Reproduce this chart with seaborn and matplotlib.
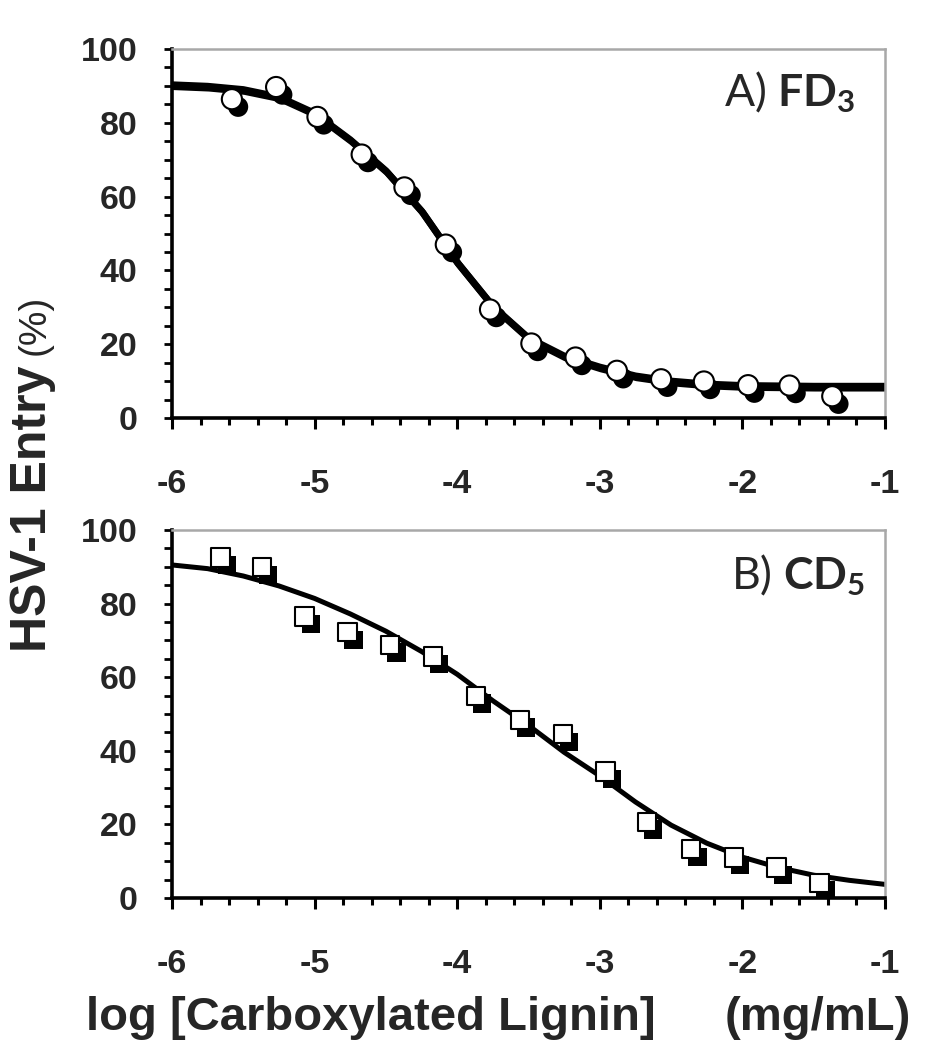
import matplotlib
matplotlib.use("Agg")
import matplotlib.pyplot as plt
import matplotlib.patheffects as pe
from matplotlib.ticker import MultipleLocator
import seaborn as sns

# ---- data ----
# A) FD3 : open circles
fd3_logc = [-5.58, -5.27, -4.98, -4.67, -4.37, -4.08, -3.77, -3.48,
            -3.17, -2.88, -2.57, -2.27, -1.96, -1.67, -1.37]
fd3_entry = [86.4, 89.7, 81.6, 71.4, 62.5, 47.0, 29.4, 20.2,
             16.4, 12.8, 10.5, 9.9, 8.9, 8.8, 5.9]

# B) CD5 : open squares
cd5_logc = [-5.66, -5.37, -5.07, -4.77, -4.47, -4.17, -3.87, -3.56,
            -3.26, -2.96, -2.67, -2.36, -2.06, -1.76, -1.46]
cd5_entry = [92.5, 89.9, 76.5, 72.2, 68.8, 65.6, 54.9, 48.4,
             44.5, 34.4, 20.7, 13.3, 11.0, 8.3, 4.1]

# fitted dose-response curves
fit_logc = [-6.0, -5.75, -5.5, -5.25, -5.0, -4.75, -4.5, -4.25, -4.0, -3.75, -3.5,
            -3.25, -3.0, -2.75, -2.5, -2.25, -2.0, -1.75, -1.5, -1.25, -1.0]
fd3_fit = [90.3, 89.9, 89.0, 87.0, 82.6, 75.4, 67.0, 56.1, 42.2, 30.3, 21.7,
           16.8, 13.8, 11.4, 10.0, 9.2, 8.8, 8.7, 8.6, 8.6, 8.6]
cd5_fit = [90.5, 89.5, 87.5, 84.8, 81.4, 77.2, 72.5, 67.0, 60.8, 53.6, 46.9,
           39.6, 33.2, 26.1, 19.8, 14.9, 11.1, 8.3, 6.2, 4.8, 3.7]

x_ticks = [-6, -5, -4, -3, -2, -1]
x_tick_labels = ["-6", "-5", "-4", "-3", "-2", "-1"]
y_ticks = [0, 20, 40, 60, 80, 100]
y_tick_labels = ["0", "20", "40", "60", "80", "100"]

sns.set_style("ticks")
plt.rcParams["font.family"] = ["Liberation Sans", "DejaVu Sans"]
plt.rcParams["mathtext.fontset"] = "custom"
plt.rcParams["mathtext.rm"] = "Lato"
plt.rcParams["mathtext.bf"] = "Lato:bold"

fig = plt.figure(figsize=(9.28, 10.5), dpi=100)
ax_a = fig.add_axes([172 / 928, 1 - 418 / 1050, 713 / 928, 369 / 1050])
ax_b = fig.add_axes([172 / 928, 1 - 898 / 1050, 713 / 928, 368 / 1050])

# drop shadow under the open markers
shadow = [pe.SimplePatchShadow(offset=(4.5, -5.5), shadow_rgbFace="black", alpha=1.0),
          pe.Normal()]


def style_axes(ax):
    ax.set_xlim(-6, -1)
    ax.set_ylim(0, 100)
    ax.set_xticks(x_ticks)
    ax.set_xticklabels(x_tick_labels)
    ax.set_yticks(y_ticks)
    ax.set_yticklabels(y_tick_labels)
    ax.xaxis.set_minor_locator(MultipleLocator(0.2))
    ax.yaxis.set_minor_locator(MultipleLocator(5))
    for side in ["left", "bottom"]:
        ax.spines[side].set_color("black")
        ax.spines[side].set_linewidth(2.6)
    for side in ["top", "right"]:
        ax.spines[side].set_visible(True)
        ax.spines[side].set_color("#a8a8a8")
        ax.spines[side].set_linewidth(1.8)
    ax.tick_params(axis="x", which="major", direction="out", length=8, width=2.2,
                   color="black", pad=29)
    ax.tick_params(axis="x", which="minor", direction="out", length=5, width=2.2,
                   color="black")
    ax.tick_params(axis="y", which="both", direction="out", length=6, width=2.0,
                   color="black", pad=19)
    for lab in ax.get_xticklabels() + ax.get_yticklabels():
        lab.set_fontsize(24.5)
        lab.set_fontweight("bold")
    ax.set_xlabel("")
    ax.set_ylabel("")


# ---- A) FD3 ----
sns.lineplot(x=fit_logc, y=fd3_fit, color="black", lw=5, ax=ax_a, zorder=2,
             path_effects=[pe.SimpleLineShadow(offset=(1, -1.3), shadow_color="black",
                                               alpha=1.0), pe.Normal()])
sns.scatterplot(x=fd3_logc, y=fd3_entry, marker="o", s=210, color="white",
                edgecolor="black", linewidth=1.5, ax=ax_a, zorder=3,
                path_effects=shadow)
style_axes(ax_a)
ax_a.text(0.958, 0.845, r"A) $\mathbf{FD_3}$", transform=ax_a.transAxes,
          fontfamily="Lato", fontsize=32, ha="right", va="baseline")

# ---- B) CD5 ----
sns.lineplot(x=fit_logc, y=cd5_fit, color="black", lw=3.6, ax=ax_b, zorder=2)
sns.scatterplot(x=cd5_logc, y=cd5_entry, marker="s", s=175, color="white",
                edgecolor="black", linewidth=1.5, ax=ax_b, zorder=3,
                path_effects=shadow)
style_axes(ax_b)
ax_b.text(0.972, 0.84, r"B) $\mathbf{CD_5}$", transform=ax_b.transAxes,
          fontfamily="Lato", fontsize=32, ha="right", va="baseline")

# ---- shared axis titles ----
fig.text(86 / 928, 1 - 1030 / 1050, "log [Carboxylated Lignin]", fontsize=34,
         fontweight="bold", ha="left", va="baseline")
fig.text(911 / 928, 1 - 1030 / 1050, "(mg/mL)", fontsize=34,
         fontweight="bold", ha="right", va="baseline")
ylab = fig.text(33 / 928, 1 - 652 / 1050, "HSV-1 Entry", fontsize=36,
                fontweight="bold", rotation=90, ha="center", va="bottom")
plt.annotate("(%)", xy=(0.5, 1.0), xycoords=ylab, xytext=(1, 8),
             textcoords="offset points", fontsize=28, rotation=90,
             ha="center", va="bottom", annotation_clip=False)

fig.savefig("out.png", dpi=100)
